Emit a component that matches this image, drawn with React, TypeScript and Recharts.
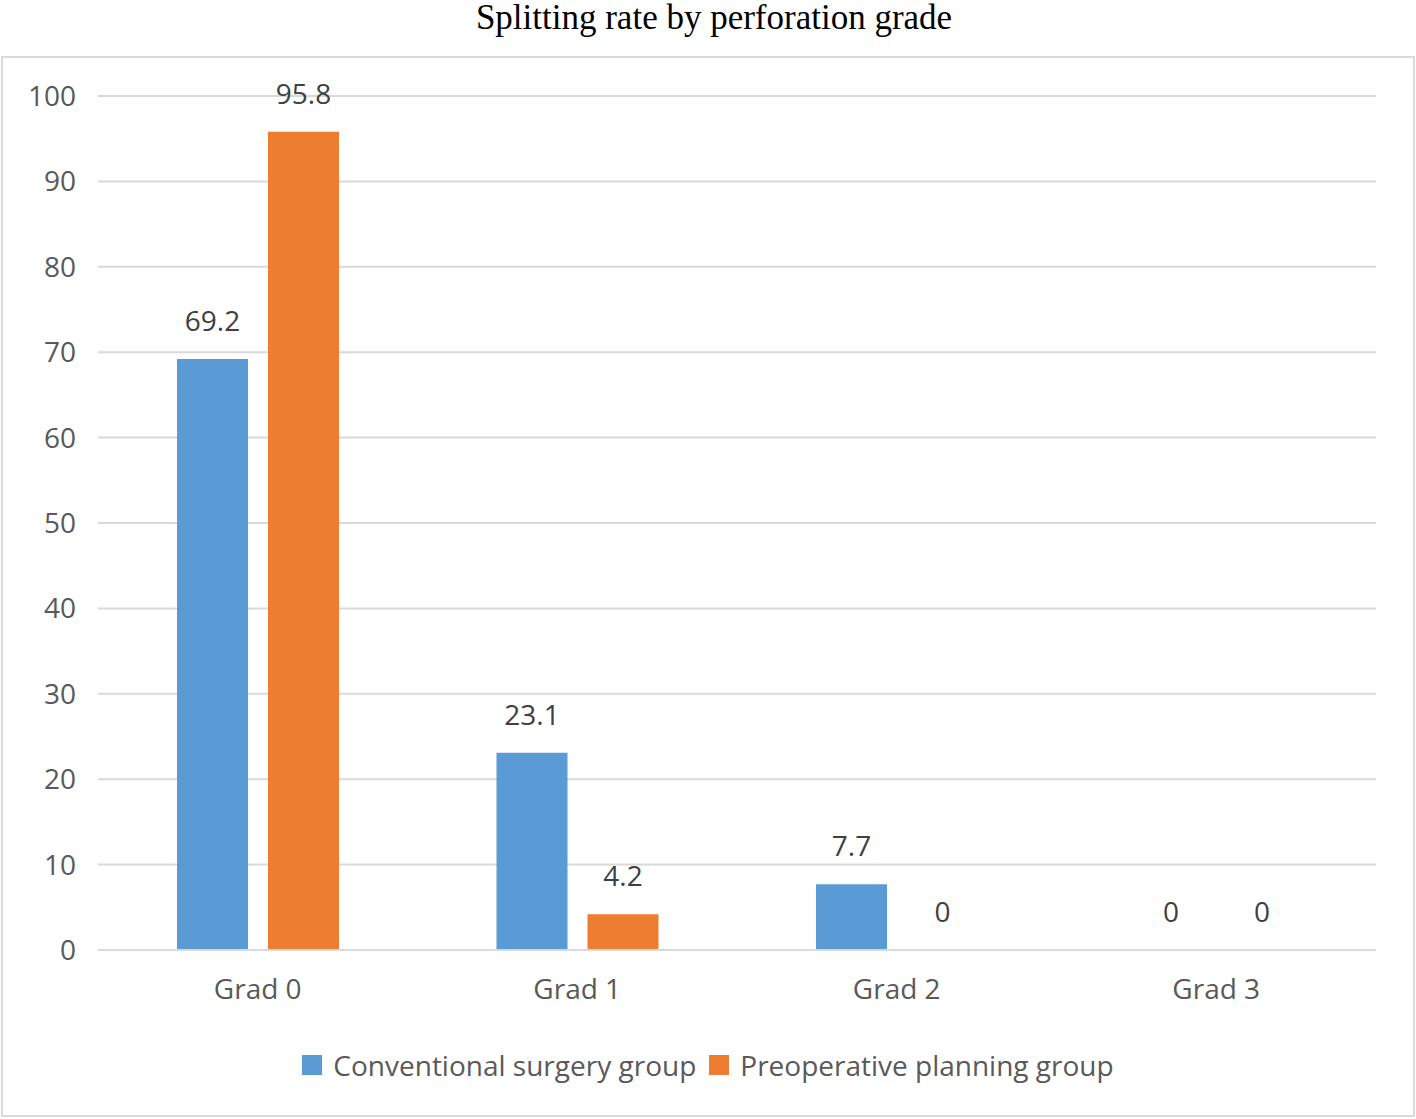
import { Bar, BarChart, CartesianGrid, LabelList, XAxis, YAxis } from "recharts";

const grades = ["Grad 0", "Grad 1", "Grad 2", "Grad 3"];
const conventional = [69.2, 23.1, 7.7, 0];
const preoperative = [95.8, 4.2, 0, 0];
const yTicks = [0, 10, 20, 30, 40, 50, 60, 70, 80, 90, 100];

const BLUE = "#5b9bd5";
const ORANGE = "#ed7d31";
const FONT = "'Open Sans', sans-serif";

const data = grades.map((grade, i) => ({
  grade,
  conventional: conventional[i],
  preoperative: preoperative[i],
}));

// draws the value above the bar, also when the value is 0
function ValueLabel(props: any) {
  const { x, y, width, value } = props;
  if (x == null || y == null) return null;
  return (
    <text
      x={Number(x) + Number(width) / 2}
      y={Number(y) - 28}
      textAnchor="middle"
      fill="#404040"
      fontSize={28}
      fontFamily={FONT}
    >
      {value}
    </text>
  );
}

function LegendRow() {
  const items = [
    { label: "Conventional surgery group", color: BLUE },
    { label: "Preoperative planning group", color: ORANGE },
  ];
  return (
    <div
      style={{
        position: "absolute",
        left: 0,
        top: 1045,
        width: 1416,
        display: "flex",
        justifyContent: "center",
        alignItems: "center",
        gap: 13,
        fontFamily: FONT,
        fontSize: 28,
        lineHeight: "40px",
        color: "#595959",
      }}
    >
      {items.map((item) => (
        <div key={item.label} style={{ display: "flex", alignItems: "center", gap: 11 }}>
          <span style={{ width: 20, height: 20, background: item.color, display: "inline-block" }} />
          <span>{item.label}</span>
        </div>
      ))}
    </div>
  );
}

export default function App() {
  return (
    <div style={{ position: "absolute", left: 0, top: 0, width: 1416, height: 1119, background: "#fff" }}>
      <div
        style={{
          position: "absolute",
          top: 0,
          left: 0,
          width: 1428,
          textAlign: "center",
          fontFamily: "'Liberation Serif', 'Times New Roman', serif",
          fontSize: 35,
          lineHeight: "36px",
          color: "#000",
        }}
      >
        Splitting rate by perforation grade
      </div>
      <div
        style={{
          position: "absolute",
          left: 1,
          top: 56,
          width: 1414,
          height: 1061,
          border: "2px solid #d9d9d9",
          boxSizing: "border-box",
        }}
      />
      <div style={{ position: "absolute", left: 0, top: 0 }}>
        <BarChart
          width={1416}
          height={1119}
          data={data}
          margin={{ top: 96, right: 40, bottom: 139, left: 0 }}
          barGap={20}
          barSize={71}
        >
          <CartesianGrid vertical={false} stroke="#d9d9d9" strokeWidth={2} />
          <XAxis
            dataKey="grade"
            height={30}
            axisLine={{ stroke: "#d9d9d9", strokeWidth: 2 }}
            tickLine={false}
            tickMargin={23}
            tick={{ fill: "#595959", fontSize: 28, fontFamily: FONT }}
          />
          <YAxis
            width={98}
            domain={[0, 100]}
            ticks={yTicks}
            axisLine={false}
            tickLine={false}
            tickMargin={16}
            tick={{ fill: "#595959", fontSize: 28, fontFamily: FONT }}
          />
          <Bar
            dataKey="conventional"
            name="Conventional surgery group"
            fill={BLUE}
            minPointSize={0.01}
            isAnimationActive={false}
          >
            <LabelList dataKey="conventional" content={<ValueLabel />} />
          </Bar>
          <Bar
            dataKey="preoperative"
            name="Preoperative planning group"
            fill={ORANGE}
            minPointSize={0.01}
            isAnimationActive={false}
          >
            <LabelList dataKey="preoperative" content={<ValueLabel />} />
          </Bar>
        </BarChart>
      </div>
      <LegendRow />
    </div>
  );
}
